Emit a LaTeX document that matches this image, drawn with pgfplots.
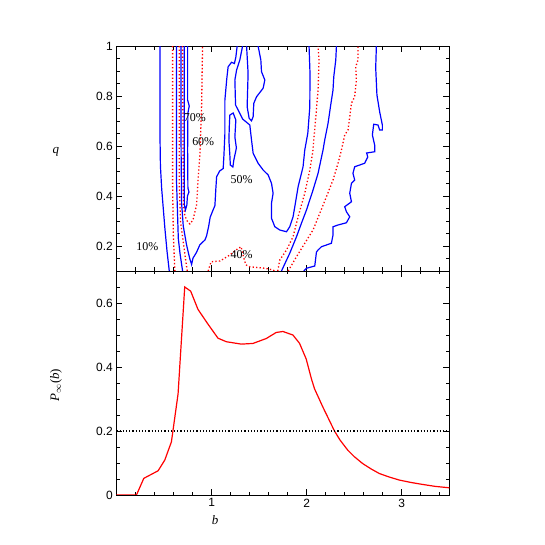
\documentclass[border=0pt]{standalone}
\usepackage{fontspec}
\setmainfont{Liberation Serif}
\setsansfont{Liberation Sans}
\usepackage{pgfplots}
\pgfplotsset{compat=1.18}
\definecolor{cblue}{RGB}{0,0,255}
\definecolor{cred}{RGB}{255,0,0}
\tikzset{lab/.style={font=\fontsize{12}{14}\selectfont, inner sep=0pt}}
\begin{document}
\begin{tikzpicture}
\path[use as bounding box] (-116.5bp,-50bp) rectangle (428.5bp,495bp);
\pgfplotsset{
  every axis/.append style={
    scale only axis, width=332.8bp, xmin=0, xmax=3.5,
    line width=0.9bp,
    tick align=inside, major tick length=6bp, minor tick length=3.5bp,
    every tick/.style={black, line width=0.7bp},
    xtick={1,2,3},
    minor xtick={0.2,0.4,0.6,0.8,1.2,1.4,1.6,1.8,2.2,2.4,2.6,2.8,3.2,3.4},
    tick label style={font=\sffamily\fontsize{12}{14}\selectfont},
    /pgf/number format/assume math mode=true,
    label style={font=\fontsize{13}{15}\selectfont},
  },
  bc/.style={cblue, line width=1.2bp},
  rc/.style={cred, line width=1.3bp, dash pattern=on 1.3bp off 2.2bp},
}
% bottom panel
\begin{axis}[name=bot, at={(0,0)}, anchor=south west, height=224bp,
  ymin=0, ymax=0.7, ytick={0,0.2,0.4,0.6},
  minor ytick={0.05,0.1,0.15,0.25,0.3,0.35,0.45,0.5,0.55,0.65},
  xlabel={\textit{b}}, ylabel={\textit{P}$_\infty$(\textit{b})},
  xlabel style={at={(axis description cs:0.296,-0.112)}, anchor=center},
  ylabel style={at={(axis description cs:-0.182,0.49)}, anchor=center}]
\addplot[cred, line width=1.2bp] coordinates {
(0,0) (0.21,0) (0.287,0.052) (0.4375,0.0757) (0.5075,0.109) (0.5775,0.166)
(0.6475,0.316) (0.7175,0.65) (0.78,0.637) (0.857,0.58) (0.962,0.534)
(1.0675,0.49) (1.155,0.479) (1.3125,0.4715) (1.435,0.4736) (1.575,0.489)
(1.68,0.508) (1.75,0.511) (1.855,0.5) (1.925,0.474) (1.995,0.425)
(2.05,0.363) (2.0825,0.332) (2.17,0.275) (2.2925,0.2) (2.35,0.172)
(2.4325,0.14) (2.5,0.12) (2.59,0.098) (2.68,0.081) (2.765,0.067)
(2.87,0.056) (2.975,0.0466) (3.1,0.039) (3.22,0.033) (3.35,0.027) (3.5,0.0225)};
\addplot[black, line width=1.1bp, dash pattern=on 1.2bp off 2bp] coordinates {(0,0.2) (3.5,0.2)};
\end{axis}
% top panel
\begin{axis}[name=top, at={(0,224bp)}, anchor=south west, height=225bp,
  ymin=0.1, ymax=1, ytick={0.2,0.4,0.6,0.8,1},
  minor ytick={0.15,0.25,0.3,0.35,0.45,0.5,0.55,0.65,0.7,0.75,0.85,0.9,0.95},
  xticklabels={},
  ylabel={\textit{q}},
  ylabel style={at={(axis description cs:-0.182,0.53)}, anchor=center, rotate=-90}]
% 10% left
\addplot[bc] coordinates {(0.457,1) (0.457,0.65) (0.462,0.52) (0.475,0.43) (0.509,0.27) (0.532,0.177) (0.555,0.1)};
% 20% left
\addplot[rc] coordinates {(0.590,1) (0.590,0.45) (0.597,0.25) (0.614,0.1)};
% 30% left
\addplot[bc] coordinates {(0.632,1) (0.632,0.45) (0.650,0.23) (0.668,0.17) (0.695,0.1)};
% 40% left
\addplot[rc] coordinates {(0.660,1) (0.660,0.45) (0.674,0.297) (0.720,0.164) (0.744,0.1)};
% 50% left part
\addplot[bc] coordinates {(0.678,1) (0.678,0.70) (0.680,0.55) (0.685,0.37) (0.702,0.28) (0.737,0.204)
 (0.770,0.15) (0.790,0.126) (0.804,0.151) (0.842,0.175) (0.877,0.205) (0.930,0.224) (0.947,0.240)
 (0.970,0.280) (0.985,0.315) (1.035,0.362) (1.045,0.43) (1.053,0.477) (1.085,0.50) (1.122,0.510)
 (1.130,0.564) (1.140,0.65) (1.140,0.784) (1.160,0.87) (1.174,0.917) (1.210,0.935) (1.240,0.93)
 (1.255,0.955) (1.269,1)};
% 50% right part
\addplot[bc] coordinates {(1.326,1) (1.297,0.944) (1.263,0.904) (1.245,0.864) (1.252,0.764) (1.279,0.744)
 (1.326,0.708) (1.402,0.684) (1.420,0.624) (1.437,0.571) (1.489,0.531) (1.542,0.504) (1.595,0.484)
 (1.630,0.451) (1.647,0.411) (1.630,0.371) (1.630,0.311) (1.665,0.277) (1.717,0.264) (1.788,0.257)
 (1.822,0.277) (1.857,0.317) (1.875,0.357) (1.910,0.437) (1.962,0.517) (1.980,0.584) (2.012,0.651)
 (2.033,0.757) (2.035,0.891) (2.025,1)};
% finger
\addplot[bc] coordinates {(1.368,1) (1.384,0.891) (1.374,0.757) (1.395,0.711) (1.420,0.701) (1.437,0.717)
 (1.444,0.771) (1.473,0.797) (1.542,0.831) (1.560,0.864) (1.525,0.897) (1.518,0.944) (1.489,1)};
% island
\addplot[bc] coordinates {(1.192,0.724) (1.227,0.732) (1.255,0.704) (1.245,0.636) (1.261,0.592) (1.234,0.544)
 (1.224,0.516) (1.197,0.524) (1.192,0.564) (1.182,0.624) (1.187,0.684) (1.192,0.724)};
% 60% U
\addplot[rc] coordinates {(0.695,1) (0.700,0.6) (0.702,0.45) (0.705,0.364) (0.720,0.32) (0.750,0.295)
 (0.772,0.288) (0.804,0.304) (0.842,0.364) (0.859,0.471) (0.877,0.564) (0.895,0.757) (0.905,1)};
% 70% finger
\addplot[bc] coordinates {(0.712,1) (0.712,0.464) (0.714,0.364) (0.725,0.344) (0.740,0.364) (0.746,0.40)
 (0.762,0.416) (0.751,0.432) (0.748,0.584) (0.751,0.732) (0.765,0.76) (0.748,0.784) (0.748,1)};
% 40% bump at bottom
\addplot[rc] coordinates {(0.964,0.1) (0.995,0.137) (1.09,0.14) (1.192,0.164) (1.26,0.185) (1.31,0.197)
 (1.34,0.15) (1.36,0.125) (1.40,0.117) (1.56,0.111) (1.647,0.104) (1.665,0.1)};
% 40% right
\addplot[rc] coordinates {(1.696,0.1) (1.717,0.144) (1.788,0.184) (1.857,0.237) (1.910,0.317) (1.980,0.411)
 (2.033,0.504) (2.064,0.576) (2.096,0.717) (2.120,0.824) (2.130,0.944) (2.120,1)};
% 30% right
\addplot[bc] coordinates {(1.735,0.1) (1.822,0.171) (1.893,0.237) (1.945,0.291) (1.998,0.344) (2.067,0.424)
 (2.120,0.491) (2.172,0.584) (2.190,0.624) (2.225,0.691) (2.250,0.757) (2.277,0.824) (2.285,0.877)
 (2.306,0.944) (2.313,1)};
% 20% right
\addplot[rc] coordinates {(1.805,0.1) (1.893,0.157) (1.980,0.211) (2.067,0.264) (2.138,0.331) (2.208,0.397)
 (2.277,0.464) (2.330,0.531) (2.366,0.584) (2.400,0.644) (2.435,0.664) (2.453,0.717) (2.471,0.771)
 (2.505,0.797) (2.523,0.864) (2.516,0.917) (2.540,0.944) (2.540,1)};
% 10% right
\addplot[bc] coordinates {(1.970,0.1) (1.998,0.111) (2.085,0.12) (2.103,0.176) (2.120,0.184) (2.155,0.197)
 (2.260,0.211) (2.277,0.244) (2.277,0.277) (2.330,0.284) (2.418,0.293) (2.453,0.317) (2.418,0.337)
 (2.400,0.357) (2.471,0.377) (2.453,0.411) (2.471,0.451) (2.505,0.464) (2.487,0.491) (2.505,0.517)
 (2.610,0.531) (2.642,0.556) (2.631,0.572) (2.715,0.577) (2.715,0.604) (2.691,0.644) (2.705,0.687)
 (2.750,0.684) (2.768,0.664) (2.796,0.664) (2.796,0.684) (2.768,0.736) (2.739,0.804) (2.726,0.912)
 (2.733,1)};
\node[lab] at (axis cs:0.825,0.713) {70\%};
\node[lab] at (axis cs:0.912,0.616) {60\%};
\node[lab] at (axis cs:1.315,0.464) {50\%};
\node[lab] at (axis cs:0.324,0.197) {10\%};
\node[lab] at (axis cs:1.315,0.164) {40\%};
\end{axis}
\end{tikzpicture}
\end{document}
